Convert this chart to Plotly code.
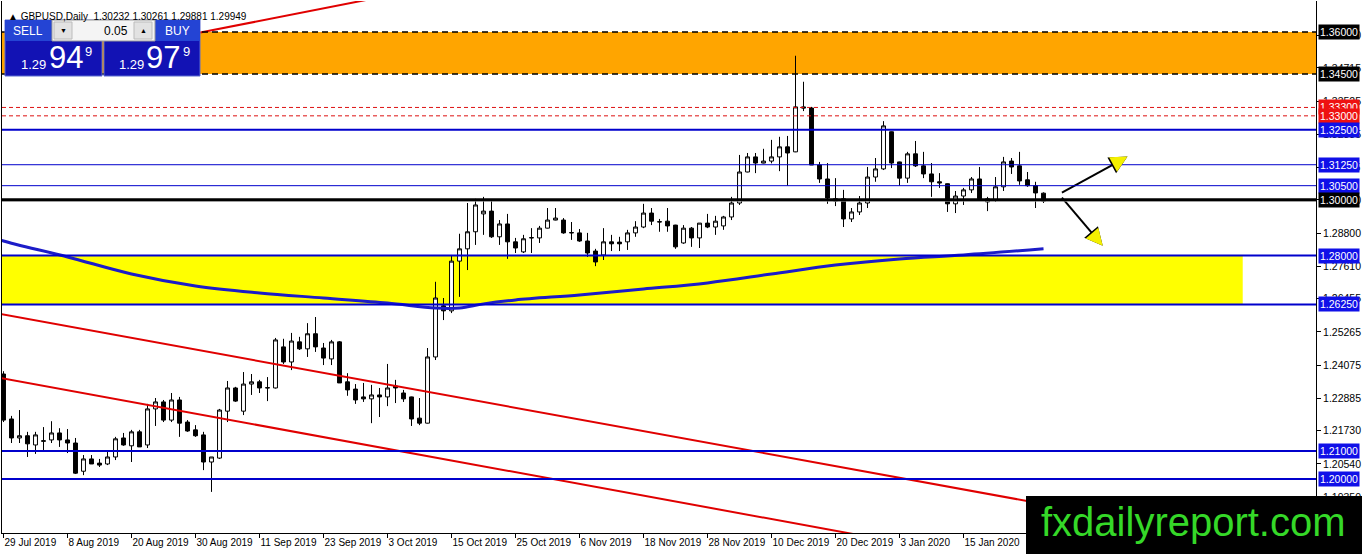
import plotly.graph_objects as go

# GBPUSD daily candles, bar 0 = 29 Jul 2019
OPEN = [1.2376, 1.2215, 1.2147, 1.2155, 1.2122, 1.2135, 1.2140, 1.2165, 1.2140, 1.2129,
        1.2028, 1.2072, 1.2057, 1.2054, 1.2079, 1.2147, 1.2119, 1.2169, 1.2122, 1.2251,
        1.2276, 1.2211, 1.2283, 1.2204, 1.2176, 1.2158, 1.2061, 1.2075, 1.2243, 1.2326,
        1.2243, 1.2340, 1.2348, 1.2326, 1.2326, 1.2473, 1.2419, 1.2491, 1.2466, 1.2520,
        1.2469, 1.2430, 1.2491, 1.2348, 1.2322, 1.2294, 1.2287, 1.2301, 1.2294, 1.2333,
        1.2308, 1.2294, 1.2218, 1.2200, 1.2437, 1.2620, 1.2602, 1.2780, 1.2824, 1.2885,
        1.2949, 1.2959, 1.2867, 1.2913, 1.2849, 1.2813, 1.2863, 1.2863, 1.2898, 1.2927,
        1.2927, 1.2881, 1.2881, 1.2852, 1.2816, 1.2802, 1.2849, 1.2848, 1.2849, 1.2881,
        1.2902, 1.2952, 1.2920, 1.2923, 1.2909, 1.2845, 1.2898, 1.2863, 1.2916, 1.2902,
        1.2906, 1.2938, 1.2988, 1.3099, 1.3153, 1.3131, 1.3138, 1.3153, 1.3189, 1.3171,
        1.3332, 1.3328, 1.3124, 1.3074, 1.3003, 1.3003, 1.2931, 1.2956, 1.2988, 1.3081,
        1.3110, 1.3243, 1.3135, 1.3077, 1.3164, 1.3121, 1.3092, 1.3064, 1.3057, 1.2985,
        1.3013, 1.3035, 1.3074, 1.2992, 1.2999, 1.3046, 1.3138, 1.3121, 1.3071, 1.3050,
        1.30232]
HIGH = [1.2386, 1.2226, 1.2247, 1.2169, 1.2169, 1.2186, 1.2207, 1.2182, 1.2179, 1.2147,
        1.2086, 1.2086, 1.2072, 1.2097, 1.2151, 1.2165, 1.2176, 1.2176, 1.2269, 1.2290,
        1.2283, 1.2308, 1.2294, 1.2211, 1.2193, 1.2169, 1.2079, 1.2251, 1.2351, 1.2330,
        1.2383, 1.2376, 1.2355, 1.2365, 1.2505, 1.2502, 1.2523, 1.2509, 1.2558, 1.2580,
        1.2487, 1.2498, 1.2494, 1.2379, 1.2340, 1.2344, 1.2337, 1.2326, 1.2412, 1.2355,
        1.2319, 1.2295, 1.2290, 1.2469, 1.2706, 1.2648, 1.2802, 1.2878, 1.2988, 1.3003,
        1.3010, 1.2999, 1.2927, 1.2949, 1.2863, 1.2874, 1.2898, 1.2906, 1.2970, 1.2970,
        1.2934, 1.2920, 1.2895, 1.2881, 1.2824, 1.2898, 1.2874, 1.2867, 1.2892, 1.2923,
        1.2985, 1.2970, 1.2931, 1.2970, 1.2910, 1.2909, 1.2902, 1.2916, 1.2949, 1.2942,
        1.2942, 1.3010, 1.3160, 1.3167, 1.3167, 1.3182, 1.3214, 1.3225, 1.3228, 1.3515,
        1.3422, 1.3332, 1.3135, 1.3131, 1.3077, 1.3035, 1.2970, 1.3013, 1.3117, 1.3149,
        1.3281, 1.3244, 1.3136, 1.3171, 1.3210, 1.3171, 1.3131, 1.3095, 1.3058, 1.3031,
        1.3042, 1.3081, 1.3117, 1.3010, 1.3081, 1.3153, 1.3149, 1.3171, 1.3099, 1.3064,
        1.30261]
LOW = [1.2204, 1.2129, 1.2129, 1.2079, 1.2090, 1.2104, 1.2129, 1.2115, 1.2093, 1.2018,
       1.2014, 1.2054, 1.2043, 1.2050, 1.2068, 1.2119, 1.2061, 1.2115, 1.2111, 1.2190,
       1.2204, 1.2204, 1.2151, 1.2169, 1.2151, 1.2032, 1.1954, 1.2072, 1.2204, 1.2276,
       1.2229, 1.2301, 1.2308, 1.2279, 1.2324, 1.2412, 1.2390, 1.2462, 1.2437, 1.2455,
       1.2408, 1.2408, 1.2344, 1.2298, 1.2269, 1.2276, 1.2200, 1.2222, 1.2261, 1.2272,
       1.2276, 1.2190, 1.2193, 1.2199, 1.2426, 1.2569, 1.2594, 1.2652, 1.2748, 1.2838,
       1.2874, 1.2863, 1.2838, 1.2788, 1.2809, 1.2809, 1.2809, 1.2845, 1.2897, 1.2926,
       1.2878, 1.2856, 1.2849, 1.2795, 1.2762, 1.2784, 1.2816, 1.2816, 1.2820, 1.2867,
       1.2898, 1.2909, 1.2885, 1.2885, 1.2824, 1.2842, 1.2831, 1.2827, 1.2898, 1.2874,
       1.2892, 1.2927, 1.2981, 1.3098, 1.3095, 1.3130, 1.3130, 1.3102, 1.3050, 1.3170,
       1.3317, 1.3124, 1.3060, 1.2985, 1.2977, 1.2902, 1.2920, 1.2945, 1.2970, 1.3064,
       1.3106, 1.3113, 1.3050, 1.3060, 1.3117, 1.3077, 1.3010, 1.3042, 1.2956, 1.2952,
       1.2981, 1.3024, 1.3003, 1.2959, 1.2992, 1.3031, 1.3092, 1.3053, 1.3046, 1.2970,
       1.29881]
CLOSE = [1.2211, 1.2147, 1.2155, 1.2126, 1.2158, 1.2137, 1.2165, 1.2140, 1.2129, 1.2021,
         1.2072, 1.2054, 1.2050, 1.2079, 1.2144, 1.2122, 1.2169, 1.2115, 1.2251, 1.2276,
         1.2211, 1.2283, 1.2200, 1.2172, 1.2155, 1.2061, 1.2079, 1.2247, 1.2326, 1.2279,
         1.2340, 1.2348, 1.2326, 1.2327, 1.2498, 1.2419, 1.2494, 1.2466, 1.2520, 1.2473,
         1.2433, 1.2491, 1.2344, 1.2319, 1.2283, 1.2287, 1.2301, 1.2294, 1.2326, 1.2326,
         1.2287, 1.2215, 1.2200, 1.2437, 1.2648, 1.2602, 1.2780, 1.2824, 1.2885, 1.2981,
         1.2959, 1.2867, 1.2913, 1.2849, 1.2827, 1.2860, 1.2864, 1.2898, 1.2927, 1.2934,
         1.2881, 1.2882, 1.2852, 1.2809, 1.2777, 1.2849, 1.2842, 1.2842, 1.2881, 1.2902,
         1.2952, 1.2923, 1.2921, 1.2906, 1.2831, 1.2898, 1.2863, 1.2916, 1.2902, 1.2923,
         1.2938, 1.2988, 1.3099, 1.3153, 1.3131, 1.3138, 1.3153, 1.3189, 1.3167, 1.3332,
         1.3328, 1.3124, 1.3074, 1.3006, 1.2995, 1.2931, 1.2956, 1.2988, 1.3081, 1.3110,
         1.3264, 1.3131, 1.3077, 1.3164, 1.3121, 1.3092, 1.3064, 1.3060, 1.2985, 1.3013,
         1.3035, 1.3074, 1.3003, 1.3003, 1.3046, 1.3135, 1.3117, 1.3067, 1.3050, 1.3024,
         1.29949]

# moving average (bar index, price)
MA_BARS = [-1, 0, 8, 16, 24, 32, 40, 48, 54, 57, 60, 64, 72, 80, 88, 96, 104, 112, 120, 130]
MA_VALUES = [1.2863, 1.2852, 1.2795, 1.2734, 1.2691, 1.2666, 1.2648, 1.2630, 1.2612, 1.2612,
             1.2627, 1.2641, 1.2659, 1.2680, 1.2702, 1.2734, 1.2766, 1.2788, 1.2802, 1.2824]

# date labels every 8 bars
TICK_DATES = ['29 Jul 2019', '8 Aug 2019', '20 Aug 2019', '30 Aug 2019', '11 Sep 2019',
              '23 Sep 2019', '3 Oct 2019', '15 Oct 2019', '25 Oct 2019', '6 Nov 2019',
              '18 Nov 2019', '28 Nov 2019', '10 Dec 2019', '20 Dec 2019', '3 Jan 2020',
              '15 Jan 2020']

PRICE_TICKS = [1.19350, 1.20540, 1.21730, 1.22885, 1.24075, 1.25265, 1.26455, 1.27610,
               1.28800, 1.29990, 1.31145, 1.32335, 1.33525, 1.34715, 1.35870]

# horizontal levels
BLUE_LEVELS = [1.3250, 1.3125, 1.3050, 1.2800, 1.2625, 1.2100, 1.2000]
BLUE_WIDTHS = [2, 1, 1, 2, 2, 2, 2]
RED_LEVELS = [1.3330, 1.3300]
ORANGE_ZONE = [1.3450, 1.3600]
YELLOW_ZONE = [1.2625, 1.2800]
YELLOW_END_BAR = 154.9
KEY_LEVEL = 1.3000

LABEL_PRICES = [1.3600, 1.3450, 1.3330, 1.3300, 1.3250, 1.3125, 1.3050, 1.3000,
                1.2800, 1.2625, 1.2100, 1.2000]
LABEL_COLORS = ['black', 'black', '#ee1111', '#ee1111', '#1010e8', '#1010e8', '#1010e8',
                'black', '#1010e8', '#1010e8', '#1010e8', '#1010e8']

# trend lines (bar, price)
TREND_TOP = [(24.6, 1.3598), (50, 1.3741)]
TREND_MID = [(-1, 1.2594), (165, 1.1728)]
TREND_LOW = [(-1, 1.2365), (120, 1.1731)]

# forecast arrows (tail, tip)
ARROW_UP = [(132.3, 1.3025), (140.5, 1.3154)]
ARROW_DOWN = [(132.3, 1.3007), (137.4, 1.2835)]

FONT = 'Liberation Sans, Arial, sans-serif'


def px(x):
    # screen pixel -> paper x
    return (x - 2) / 1314


def py(y):
    # screen pixel -> paper y
    return (533 - y) / 532


bars = list(range(len(OPEN)))

fig = go.Figure()

fig.add_trace(go.Candlestick(
    x=bars, open=OPEN, high=HIGH, low=LOW, close=CLOSE,
    increasing=dict(line=dict(color='black', width=1), fillcolor='white'),
    decreasing=dict(line=dict(color='black', width=1), fillcolor='black'),
    whiskerwidth=0, showlegend=False, hoverinfo='skip'
))

fig.add_trace(go.Scatter(
    x=MA_BARS, y=MA_VALUES, mode='lines',
    line=dict(color='#1c1cc8', width=3, shape='spline'),
    showlegend=False, hoverinfo='skip'
))

for line in [TREND_TOP, TREND_MID, TREND_LOW]:
    fig.add_trace(go.Scatter(
        x=[p[0] for p in line], y=[p[1] for p in line], mode='lines',
        line=dict(color='#e00000', width=2), showlegend=False, hoverinfo='skip'
    ))

# arrow shafts
for tail, tip in [ARROW_UP, ARROW_DOWN]:
    base = (tail[0] + 0.78 * (tip[0] - tail[0]), tail[1] + 0.78 * (tip[1] - tail[1]))
    fig.add_trace(go.Scatter(
        x=[tail[0], base[0]], y=[tail[1], base[1]], mode='lines',
        line=dict(color='black', width=2), showlegend=False, hoverinfo='skip'
    ))

shapes = []
shapes.append(dict(type='rect', xref='paper', yref='y', x0=0, x1=1,
                   y0=ORANGE_ZONE[0], y1=ORANGE_ZONE[1], fillcolor='#ffa500',
                   line=dict(width=0), layer='below'))
shapes.append(dict(type='rect', xref='x', yref='y', x0=-2, x1=YELLOW_END_BAR,
                   y0=YELLOW_ZONE[0], y1=YELLOW_ZONE[1], fillcolor='#ffff00',
                   line=dict(width=0), layer='below'))
for lvl in ORANGE_ZONE:
    shapes.append(dict(type='line', xref='paper', yref='y', x0=0, x1=1, y0=lvl, y1=lvl,
                       line=dict(color='black', width=1.5, dash='6px,4px'), layer='above'))
for lvl in RED_LEVELS:
    shapes.append(dict(type='line', xref='paper', yref='y', x0=0, x1=1, y0=lvl, y1=lvl,
                       line=dict(color='#dd1111', width=1, dash='4px,3px'), layer='above'))
for lvl, w in zip(BLUE_LEVELS, BLUE_WIDTHS):
    shapes.append(dict(type='line', xref='paper', yref='y', x0=0, x1=1, y0=lvl, y1=lvl,
                       line=dict(color='#0000cc', width=w), layer='above'))
shapes.append(dict(type='line', xref='paper', yref='y', x0=0, x1=1, y0=CLOSE[-1], y1=CLOSE[-1],
                   line=dict(color='#b8b8b8', width=1), layer='above'))
shapes.append(dict(type='line', xref='paper', yref='y', x0=0, x1=1, y0=KEY_LEVEL, y1=KEY_LEVEL,
                   line=dict(color='black', width=3), layer='above'))

# one-click trading panel
panel = dict(type='rect', xref='paper', yref='paper', layer='above')
shapes.append(dict(panel, x0=px(5), x1=px(102), y0=py(76), y1=py(20),
                   fillcolor='#1212b4', line=dict(color='#5a6ad0', width=1)))
shapes.append(dict(panel, x0=px(104), x1=px(200), y0=py(76), y1=py(20),
                   fillcolor='#1212b4', line=dict(color='#5a6ad0', width=1)))
shapes.append(dict(panel, x0=px(5), x1=px(52), y0=py(41), y1=py(20),
                   fillcolor='#2444d4', line=dict(width=0)))
shapes.append(dict(panel, x0=px(155), x1=px(200), y0=py(41), y1=py(20),
                   fillcolor='#2444d4', line=dict(width=0)))
shapes.append(dict(panel, x0=px(52), x1=px(155), y0=py(41), y1=py(20),
                   fillcolor='#f4f4f4', line=dict(color='#9a9a9a', width=1)))
shapes.append(dict(panel, x0=px(54), x1=px(72), y0=py(39), y1=py(22),
                   fillcolor='#e2e2e2', line=dict(color='#bcbcbc', width=1)))
shapes.append(dict(panel, x0=px(134), x1=px(152), y0=py(39), y1=py(22),
                   fillcolor='#e2e2e2', line=dict(color='#bcbcbc', width=1)))
# watermark box
shapes.append(dict(panel, x0=px(1026), x1=px(1362), y0=py(554), y1=py(496),
                   fillcolor='black', line=dict(width=0)))

annotations = []
# arrowheads: black under, yellow on top
for (tail, tip) in [ARROW_UP, ARROW_DOWN]:
    base = (tip[0] - 0.2 * (tip[0] - tail[0]), tip[1] - 0.2 * (tip[1] - tail[1]))
    for col, w in [('black', 2.0), ('#f4f000', 1.5)]:
        annotations.append(dict(x=tip[0], y=tip[1], ax=base[0], ay=base[1], xref='x', yref='y',
                                axref='x', ayref='y', showarrow=True, arrowhead=2,
                                arrowsize=2.4 * 1.5 / w if col == 'black' else 2.2,
                                arrowwidth=w, arrowcolor=col, text=''))

for price, color in zip(LABEL_PRICES, LABEL_COLORS):
    annotations.append(dict(x=1, xref='paper', y=price, yref='y', xanchor='left', xshift=2,
                            text=f'{price:.5f}', showarrow=False, bgcolor=color, borderpad=1,
                            font=dict(family=FONT, size=10.5, color='white')))

header = f'\u25B2 GBPUSD,Daily  {OPEN[-1]:.5f} {HIGH[-1]:.5f} {LOW[-1]:.5f} {CLOSE[-1]:.5f}'
annotations.append(dict(x=px(6), y=py(9), xref='paper', yref='paper', xanchor='left',
                        text=header, showarrow=False, font=dict(family=FONT, size=10, color='black')))


def panel_text(txt, x, y, size, color='white', anchor='center'):
    annotations.append(dict(x=px(x), y=py(y), xref='paper', yref='paper', xanchor=anchor,
                            yanchor='middle', text=txt, showarrow=False,
                            font=dict(family=FONT, size=size, color=color)))


panel_text('SELL', 28, 31, 12)
panel_text('BUY', 177, 31, 12)
panel_text('0.05', 130, 31, 12, color='black', anchor='right')
panel_text('\u25BC', 63, 31, 7, color='black')
panel_text('\u25B2', 143, 31, 7, color='black')
panel_text('1.29', 33, 64, 13)
panel_text('94', 66, 58, 31)
panel_text('9', 88, 51, 13)
panel_text('1.29', 131, 64, 13)
panel_text('97', 163, 58, 31)
panel_text('9', 186, 51, 13)
panel_text('fxdailyreport.com', 1193, 522, 40, color='#35d828')

fig.update_layout(
    width=1362, height=554,
    margin=dict(l=2, r=46, t=1, b=21),
    plot_bgcolor='white', paper_bgcolor='white',
    showlegend=False,
    shapes=shapes, annotations=annotations,
    xaxis=dict(range=[-0.1875, 164.06], rangeslider=dict(visible=False),
               tickvals=list(range(0, 8 * len(TICK_DATES), 8)), ticktext=TICK_DATES,
               ticks='outside', ticklen=4, tickcolor='black', tickangle=0,
               ticklabelposition='outside right',
               showline=True, linecolor='black', linewidth=1, showgrid=False, zeroline=False,
               tickfont=dict(family=FONT, size=10, color='black'), fixedrange=True),
    yaxis=dict(range=[1.18069, 1.37110], side='right',
               tickvals=PRICE_TICKS, ticktext=[f'{v:.5f}' for v in PRICE_TICKS],
               ticks='outside', ticklen=4, tickcolor='black',
               showline=True, linecolor='black', linewidth=1, mirror=True,
               showgrid=False, zeroline=False,
               tickfont=dict(family=FONT, size=10.5, color='black'), fixedrange=True),
)

fig.write_html("out.html", config={'displayModeBar': False},
               post_script="document.body.style.margin='0px';document.body.style.overflow='hidden';")
